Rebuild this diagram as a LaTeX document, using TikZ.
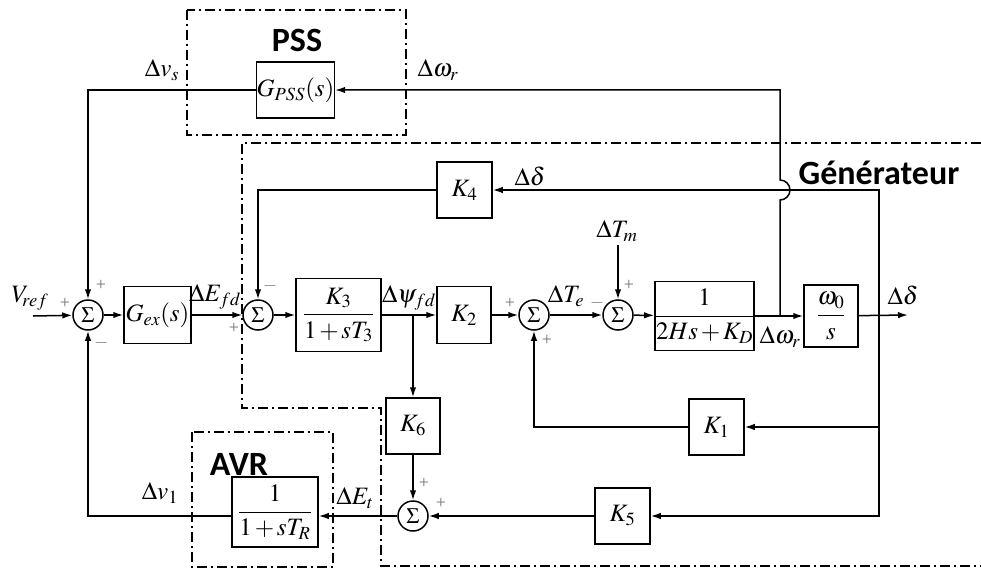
\documentclass[tikz,border=0pt]{standalone}
\usepackage{mathptmx}
\usepackage[no-math]{fontspec}
\setmainfont{Liberation Serif}
\newfontfamily\lblfont{Carlito}
\usetikzlibrary{arrows.meta}
\tikzset{
  blk/.style={draw, line width=1.5pt, inner sep=0pt, font=\fontsize{25}{29}\selectfont},
  sumn/.style={draw, circle, line width=1.5pt, minimum size=30pt, inner sep=0pt, font=\fontsize{22}{26}\selectfont},
  wire/.style={line width=1.5pt},
  arr/.style={wire, -{Latex[length=10pt,width=6.5pt]}},
  sig/.style={font=\fontsize{25}{29}\selectfont, inner sep=0pt},
  sgn/.style={font=\fontsize{18}{20}\selectfont, text=black!55, inner sep=0pt},
  grp/.style={line width=2pt, dash pattern=on 10pt off 4pt on 2pt off 4pt},
  ttl/.style={font=\lblfont\bfseries\fontsize{34}{38}\selectfont, inner sep=0pt},
}
\begin{document}
\begin{tikzpicture}[x=1pt,y=-1pt]
\useasboundingbox[fill=white] (0,0) rectangle (981,572);
% group frames
\draw[grp] (187,10) rectangle (406,135);
\draw[grp] (192,432) rectangle (333,567);
\draw[grp] (981,143) -- (242,143) -- (242,408) -- (381,408) -- (381,566) -- (981,566);
\node[ttl] (tpss) at (297,40) {PSS};
\node[ttl] (tavr) at (239,464) {AVR};
\node[ttl] (tgen) at (879,173) {Générateur};
% blocks
\node[blk, minimum width=77pt, minimum height=56pt] (gpss) at (295.5,90) {$G_{PSS}(s)$};
\node[sumn] (s1) at (88,315) {$\Sigma$};
\node[blk, minimum width=67pt, minimum height=57pt] (gex) at (157.5,315) {$G_{ex}(s)$};
\node[sumn] (s2) at (258,315) {$\Sigma$};
\node[blk, minimum width=85pt, minimum height=73pt] (k3) at (338.5,315) {$\displaystyle\frac{K_3}{1\,{+}\,sT_3}$};
\node[blk, minimum width=54pt, minimum height=57pt] (k2) at (464,315) {$K_2$};
\node[sumn] (s3) at (534,315) {$\Sigma$};
\node[sumn] (s4) at (618,315) {$\Sigma$};
\node[blk, minimum width=95pt, minimum height=69pt] (hb) at (704.5,316) {$\displaystyle\frac{1}{2Hs\,{+}\,K_D}$};
\node[blk, minimum width=54pt, minimum height=62pt] (wb) at (831,316) {$\displaystyle\frac{\omega_0}{s}$};
\node[blk, minimum width=55pt, minimum height=56pt] (k4) at (464.5,190) {$K_4$};
\node[blk, minimum width=55pt, minimum height=56pt] (k1) at (716.5,427) {$K_1$};
\node[blk, minimum width=55pt, minimum height=56pt] (k5) at (622.5,516) {$K_5$};
\node[blk, minimum width=54pt, minimum height=56pt] (k6) at (413,426) {$K_6$};
\node[sumn] (s5) at (413,516) {$\Sigma$};
\node[blk, minimum width=86pt, minimum height=70pt] (tr) at (275,512) {$\displaystyle\frac{1}{1\,{+}\,sT_R}$};
% free ends / branch points
\coordinate (vin) at (33,316);
\coordinate (out) at (908,315);
\coordinate (bw) at (780,315);
\coordinate (bd) at (879,315);
\coordinate (bpsi) at (413,315);
\coordinate (tm) at (618,245);
% main path
\draw[arr] (vin) -- (s1);
\draw[arr] (s1) -- (gex);
\draw[arr] (gex) -- (s2);
\draw[arr] (s2) -- (k3);
\draw[arr] (k3) -- (k2);
\draw[arr] (k2) -- (s3);
\draw[arr] (s3) -- (s4);
\draw[arr] (s4) -- (hb);
\draw[arr] (hb) -- (wb);
\draw[arr] (wb) -- (out);
\draw[arr] (tm) -- (s4);
% PSS loop
\draw[arr] (bw) -- (780,200) arc[start angle=-90,end angle=90,radius=10pt] |- (gpss.east);
\draw[arr] (gpss) -| (s1);
% delta feedbacks
\draw[arr] (bd) |- (k4);
\draw[arr] (k4) -| (s2);
\draw[arr] (bd) |- (k1);
\draw[arr] (k1) -| (s3);
\draw[arr] (bd) |- (k5);
\draw[arr] (k5) -- (s5);
\draw[arr] (bpsi) -- (k6);
\draw[arr] (k6) -- (s5);
\draw[arr] (s5) -- (s5 -| tr.east);
\draw[arr] (s5 -| tr.west) -| (s1);
% signal labels
\node[sig] (lvs) at (162,70) {$\Delta v_s$};
\node[sig] (lwr1) at (438,70) {$\Delta\omega_r$};
\node[sig] (ld1) at (530,176) {$\Delta\delta$};
\node[sig] (lvref) at (30,298) {$V_{\!ref}$};
\node[sig] (lefd) at (215,297) {$\Delta E_{fd}$};
\node[sig] (lpsi) at (409,298) {$\Delta\psi_{fd}$};
\node[sig] (lte) at (566,296) {$\Delta T_e$};
\node[sig] (ltm) at (617,231) {$\Delta T_m$};
\node[sig] (lwr2) at (780,337) {$\Delta\omega_r$};
\node[sig] (ld2) at (903,295) {$\Delta\delta$};
\node[sig] (lv1) at (160,493) {$\Delta v_1$};
\node[sig] (let) at (355,498) {$\Delta E_t$};
% signs
\node[sgn] at (65,303) {+};
\node[sgn] at (101,285) {+};
\node[sgn] at (101,343) {$-$};
\node[sgn] at (270,286) {$-$};
\node[sgn] at (234,328) {+};
\node[sgn] at (510,303) {+};
\node[sgn] at (547,340) {+};
\node[sgn] at (597,303) {$-$};
\node[sgn] at (629,285) {+};
\node[sgn] at (424,483) {+};
\node[sgn] at (441,503) {+};
\end{tikzpicture}
\end{document}
